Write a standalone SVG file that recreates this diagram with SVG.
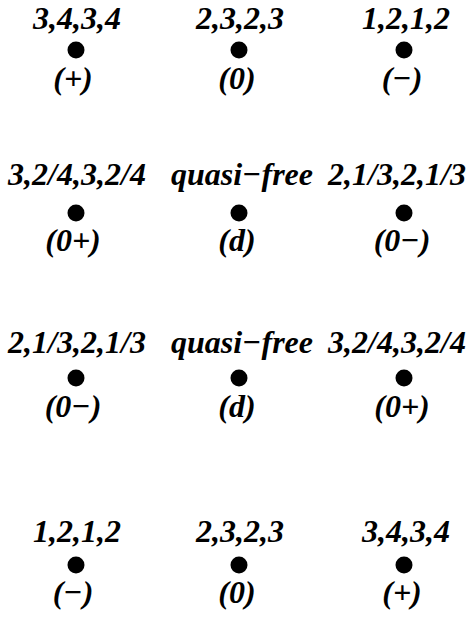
<svg xmlns="http://www.w3.org/2000/svg" width="470" height="620" viewBox="0 0 470 620">
<style>
text{font-family:"Liberation Serif","Times New Roman",serif;font-weight:bold;font-style:italic;font-size:32px;text-anchor:middle;fill:#000}
circle{fill:#000}
</style>
<rect width="470" height="620" fill="#fff"/>
<g id="connectors"/>
<g id="n11"><text x="77" y="29">3,4,3,4</text><circle cx="76" cy="50" r="8.5"/><text x="73" y="89">(+)</text></g>
<g id="n12"><text x="240" y="29">2,3,2,3</text><circle cx="239" cy="50" r="8.5"/><text x="237" y="89">(0)</text></g>
<g id="n13"><text x="406" y="29">1,2,1,2</text><circle cx="404" cy="50" r="8.5"/><text x="402" y="89">(−)</text></g>
<g id="n21"><text x="77" y="185">3,2/4,3,2/4</text><circle cx="76" cy="213" r="8.5"/><text x="73" y="251">(0+)</text></g>
<g id="n22"><text x="242" y="185">quasi−free</text><circle cx="239" cy="213" r="8.5"/><text x="237" y="251">(d)</text></g>
<g id="n23"><text x="397" y="185">2,1/3,2,1/3</text><circle cx="404" cy="213" r="8.5"/><text x="402" y="251">(0−)</text></g>
<g id="n31"><text x="77" y="353">2,1/3,2,1/3</text><circle cx="76" cy="378" r="8.5"/><text x="73" y="417">(0−)</text></g>
<g id="n32"><text x="242" y="353">quasi−free</text><circle cx="239" cy="378" r="8.5"/><text x="237" y="417">(d)</text></g>
<g id="n33"><text x="397" y="353">3,2/4,3,2/4</text><circle cx="404" cy="378" r="8.5"/><text x="402" y="417">(0+)</text></g>
<g id="n41"><text x="77" y="542">1,2,1,2</text><circle cx="76" cy="565" r="8.5"/><text x="73" y="603">(−)</text></g>
<g id="n42"><text x="240" y="542">2,3,2,3</text><circle cx="239" cy="565" r="8.5"/><text x="237" y="603">(0)</text></g>
<g id="n43"><text x="406" y="542">3,4,3,4</text><circle cx="404" cy="565" r="8.5"/><text x="402" y="603">(+)</text></g>
</svg>
